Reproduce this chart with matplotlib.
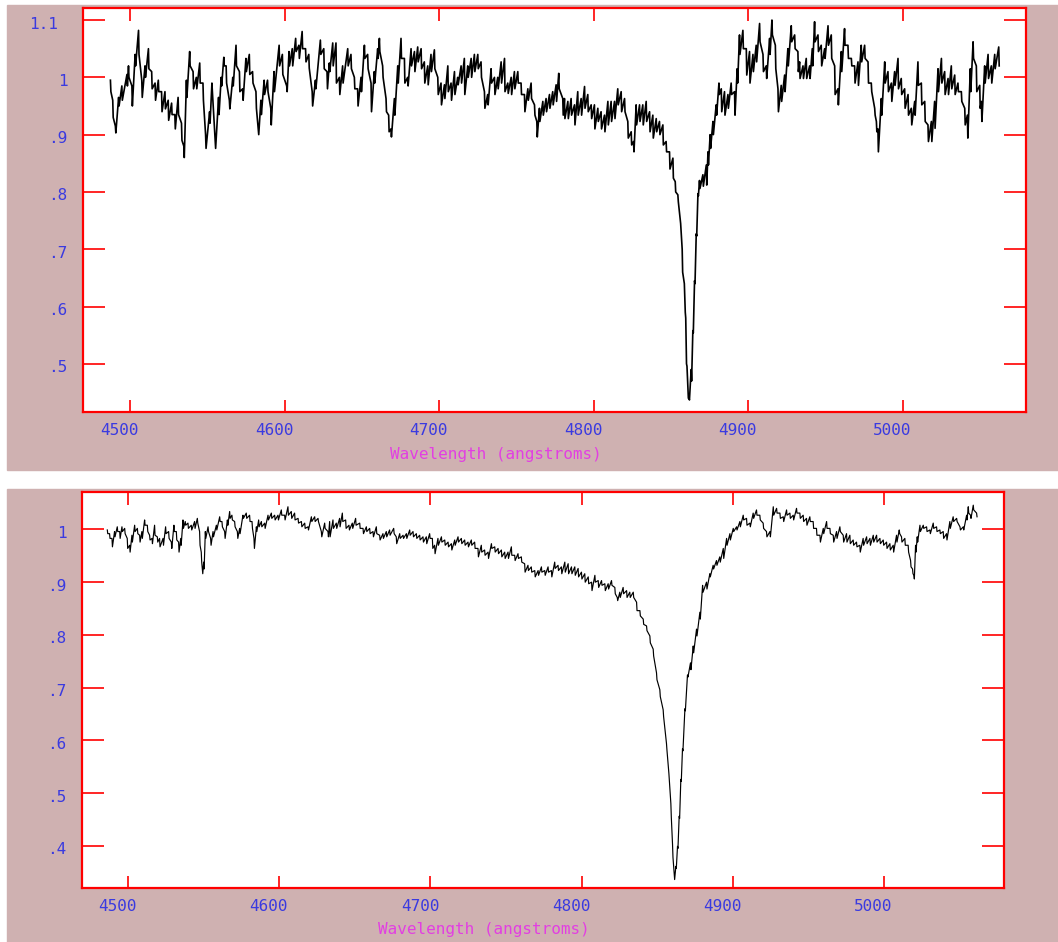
import matplotlib
matplotlib.use("Agg")
import matplotlib.pyplot as plt
import matplotlib.transforms as mtransforms
from matplotlib.patches import Rectangle
import numpy as np

# ---- top spectrum: wavelength, upper / lower edge of the noise band ----
top_wl = [4487.2, 4488.7, 4490.4, 4492.5, 4494.6, 4497.9, 4498.9, 4501.1, 4503.2, 4505.4,
          4507.5, 4509.6, 4511.8, 4513.9, 4516.1, 4518.2, 4520.3, 4522.5, 4524.6, 4526.8,
          4528.9, 4531.0, 4533.2, 4534.7, 4536.4, 4538.5, 4540.7, 4542.8, 4545.0, 4547.1,
          4548.8, 4551.4, 4552.9, 4555.0, 4557.2, 4558.9, 4560.6, 4562.1, 4564.2, 4566.4,
          4568.5, 4570.7, 4572.8, 4574.9, 4577.1, 4579.2, 4581.4, 4582.9, 4584.6, 4586.7,
          4588.9, 4591.0, 4593.1, 4596.4, 4598.5, 4601.3, 4602.8, 4604.9, 4607.1, 4609.2,
          4611.3, 4613.5, 4615.6, 4617.8, 4619.9, 4623.1, 4625.3, 4627.4,
          4628.9, 4631.1, 4633.2, 4635.4, 4637.5, 4640.8, 4642.9, 4645.1, 4647.2, 4649.4,
          4651.6, 4653.7, 4655.9, 4658.0, 4660.2, 4661.3, 4663.4, 4665.6, 4667.3, 4668.8,
          4671.0, 4673.2, 4675.3, 4677.5, 4679.6, 4681.8, 4684.0, 4686.1, 4688.3, 4690.4,
          4692.6, 4694.7, 4696.9, 4699.1, 4701.2, 4703.4, 4705.6, 4707.7, 4709.9, 4712.0,
          4714.2, 4716.3, 4718.5, 4720.7, 4722.8, 4725.0, 4727.1, 4729.3, 4731.4, 4733.6,
          4735.8, 4737.9, 4740.1, 4742.3, 4744.4, 4746.6, 4748.7, 4750.9, 4753.0, 4755.2,
          4757.4, 4759.5, 4761.7, 4763.2, 4764.9, 4767.1, 4769.2, 4771.4, 4773.5, 4775.7,
          4777.4, 4780.0,
          4781.1, 4783.3, 4785.4, 4787.6, 4789.7, 4791.9, 4794.1, 4796.2, 4798.4, 4800.5,
          4802.7, 4804.8, 4807.0, 4809.2, 4811.3, 4813.5, 4815.6, 4817.8, 4820.0, 4822.1,
          4824.3, 4825.8, 4827.5, 4829.7, 4831.8, 4834.0, 4836.2, 4838.3, 4840.5, 4842.6,
          4844.8, 4846.9, 4849.1, 4851.3, 4852.8, 4854.5, 4856.0, 4857.3, 4858.4, 4859.3,
          4860.1, 4861.0, 4861.7, 4863.1, 4864.2, 4865.3, 4866.4, 4867.5, 4868.5, 4870.7,
          4872.9, 4874.0, 4875.4, 4877.2, 4879.3, 4881.1, 4882.6, 4884.7, 4886.9, 4889.0,
          4891.2, 4892.9, 4894.4, 4896.6, 4898.8, 4900.9, 4903.1, 4905.2, 4907.4, 4909.6,
          4911.7, 4913.9, 4915.4, 4917.6, 4919.3, 4921.4, 4923.6, 4925.7, 4927.9, 4930.1,
          4932.2,
          4933.3, 4935.5, 4937.6, 4939.8, 4941.5, 4943.0, 4945.2, 4947.3, 4949.5, 4951.7,
          4953.8, 4956.0, 4958.1, 4960.3, 4962.4, 4964.6, 4966.8, 4968.9, 4971.1, 4973.2,
          4975.4, 4977.6, 4979.7, 4981.9, 4983.0, 4984.0, 4986.2, 4988.4, 4990.5, 4992.7,
          4994.8, 4997.0, 4999.1, 5001.3, 5003.5, 5005.6, 5007.8, 5009.9, 5012.1, 5014.3,
          5016.4, 5018.6, 5020.7, 5022.9, 5025.1, 5027.2, 5029.4, 5031.5, 5033.7, 5035.8,
          5038.0, 5040.2, 5041.9, 5043.8, 5045.6, 5047.7, 5049.9, 5051.0, 5053.1, 5055.3,
          5057.4, 5059.6, 5062.2]
top_hi = [0.995, 0.960, 0.915, 0.965, 0.985, 1.005, 1.020, 0.985, 1.040, 1.082,
          0.995, 1.020, 1.050, 1.010, 0.990, 0.995, 0.975, 0.975, 0.960, 0.955,
          0.935, 0.965, 0.920, 0.880, 0.995, 1.045, 1.010, 1.000, 1.025, 0.990,
          0.900, 0.940, 0.990, 0.890, 0.965, 1.000, 1.035, 1.020, 0.960, 1.000,
          1.056, 1.010, 0.980, 1.033, 1.040, 1.010, 0.975, 0.910, 0.960, 0.995,
          0.995, 0.946, 1.010, 1.056, 1.040, 0.985, 1.045, 1.050, 1.068, 1.056,
          1.080, 1.050, 1.040, 0.975, 0.995, 1.065, 1.050, 1.010,
          1.025, 1.060, 1.060, 1.000, 1.020, 1.050, 1.040, 1.000, 0.980, 1.000,
          1.056, 1.040, 0.990, 1.010, 1.050, 1.068, 1.020, 0.963, 0.934, 0.910,
          0.963, 1.020, 1.068, 1.033, 1.000, 1.050, 1.045, 1.053, 1.050, 1.027,
          1.020, 1.040, 1.048, 1.000, 0.990, 0.987, 1.020, 0.990, 1.010, 1.000,
          1.020, 1.033, 1.020, 1.033, 1.040, 1.040, 1.027, 0.975, 0.970, 1.015,
          1.000, 1.000, 1.027, 1.033, 0.990, 1.000, 1.010, 1.010, 0.990, 0.970,
          0.980, 0.990, 0.952, 0.923, 0.946, 0.958, 0.963, 0.970, 0.975, 0.987,
          1.007, 0.963,
          0.963, 0.958, 0.963, 0.952, 0.975, 0.963, 0.984, 0.970, 0.952, 0.952,
          0.946, 0.940, 0.934, 0.958, 0.958, 0.958, 0.980, 0.975, 0.963, 0.923,
          0.905, 0.888, 0.952, 0.952, 0.952, 0.958, 0.940, 0.934, 0.928, 0.923,
          0.917, 0.888, 0.870, 0.859, 0.818, 0.795, 0.752, 0.700, 0.645, 0.590,
          0.500, 0.457, 0.440, 0.490, 0.558, 0.645, 0.727, 0.797, 0.820, 0.830,
          0.847, 0.870, 0.900, 0.923, 0.952, 0.990, 0.980, 0.975, 0.970, 0.990,
          0.975, 1.015, 1.074, 1.082, 1.050, 1.045, 1.040, 1.056, 1.094, 1.040,
          1.020, 1.068, 1.100, 1.056, 0.980, 0.986, 1.004, 1.050, 1.090, 1.074,
          1.045,
          1.027, 1.020, 1.033, 1.020, 1.050, 1.097, 1.074, 1.056, 1.050, 1.090,
          1.074, 1.020, 0.980, 1.045, 1.085, 1.056, 1.033, 1.020, 1.027, 1.056,
          1.056, 1.027, 0.990, 0.946, 0.923, 0.910, 0.963, 1.027, 1.010, 0.990,
          1.010, 1.033, 0.998, 0.980, 0.970, 0.946, 0.958, 1.027, 0.990, 0.958,
          0.917, 0.923, 0.958, 1.015, 1.033, 1.010, 0.998, 1.020, 1.004, 0.990,
          0.975, 0.946, 0.934, 1.015, 1.062, 1.020, 0.986, 0.958, 1.020, 1.040,
          1.020, 1.040, 1.053]
top_lo = [0.975, 0.930, 0.903, 0.950, 0.960, 0.985, 1.000, 0.950, 1.020, 1.040,
          0.965, 1.000, 1.015, 0.980, 0.960, 0.975, 0.940, 0.945, 0.925, 0.935,
          0.910, 0.935, 0.890, 0.860, 0.965, 1.020, 0.980, 0.980, 0.990, 0.960,
          0.876, 0.920, 0.975, 0.876, 0.935, 0.985, 1.020, 0.990, 0.945, 0.985,
          1.020, 0.975, 0.960, 1.010, 1.005, 0.990, 0.946, 0.900, 0.935, 0.970,
          0.975, 0.917, 0.975, 1.020, 1.005, 0.975, 1.020, 1.020, 1.045, 1.033,
          1.050, 1.027, 1.016, 0.950, 0.980, 1.040, 1.015, 0.980,
          1.010, 1.020, 0.990, 0.970, 0.990, 1.020, 1.015, 0.980, 0.950, 0.975,
          1.033, 1.015, 0.940, 0.990, 1.033, 1.045, 1.000, 0.940, 0.905, 0.896,
          0.934, 0.990, 1.033, 0.990, 0.985, 1.020, 1.010, 1.027, 1.015, 0.990,
          0.987, 1.010, 1.015, 0.970, 0.952, 0.963, 0.975, 0.960, 0.970, 0.987,
          0.990, 0.970, 1.000, 1.000, 1.010, 1.015, 1.000, 0.946, 0.952, 0.990,
          0.970, 0.980, 0.990, 0.975, 0.972, 0.970, 0.980, 0.990, 0.970, 0.940,
          0.960, 0.963, 0.934, 0.896, 0.923, 0.934, 0.940, 0.946, 0.952, 0.958,
          0.980, 0.934,
          0.928, 0.928, 0.934, 0.917, 0.934, 0.934, 0.946, 0.940, 0.928, 0.910,
          0.923, 0.910, 0.905, 0.917, 0.923, 0.928, 0.952, 0.940, 0.940, 0.894,
          0.882, 0.870, 0.917, 0.923, 0.917, 0.923, 0.905, 0.894, 0.905, 0.900,
          0.882, 0.870, 0.840, 0.824, 0.800, 0.783, 0.745, 0.660, 0.640, 0.580,
          0.496, 0.440, 0.437, 0.470, 0.554, 0.640, 0.723, 0.793, 0.806, 0.810,
          0.812, 0.847, 0.876, 0.900, 0.934, 0.970, 0.940, 0.934, 0.946, 0.970,
          0.934, 0.990, 1.040, 1.050, 1.004, 0.990, 1.010, 1.027, 1.062, 1.010,
          0.998, 1.040, 1.074, 1.015, 0.940, 0.958, 0.975, 1.020, 1.062, 1.050,
          1.010,
          0.998, 0.998, 0.998, 0.998, 1.020, 1.062, 1.045, 1.020, 1.033, 1.056,
          1.033, 0.970, 0.952, 1.010, 1.056, 1.033, 1.020, 0.990, 0.986, 1.027,
          1.033, 0.990, 0.975, 0.934, 0.905, 0.870, 0.934, 0.990, 0.975, 0.958,
          0.986, 0.980, 0.970, 0.946, 0.934, 0.917, 0.934, 0.986, 0.952, 0.923,
          0.888, 0.888, 0.911, 0.975, 0.990, 0.970, 0.970, 0.980, 0.970, 0.975,
          0.958, 0.917, 0.894, 0.975, 1.033, 0.975, 0.946, 0.923, 0.990, 0.998,
          0.990, 1.015, 1.020]

# ---- bottom spectrum ----
bot_wl = [4486.2, 4487.7, 4489.3, 4491.0, 4492.8, 4494.4, 4495.9, 4497.7, 4499.4, 4501.0,
          4502.5, 4504.3, 4506.1, 4507.6, 4509.1, 4510.9, 4512.7, 4514.2, 4515.8, 4517.5,
          4519.3, 4520.8, 4523.1, 4524.8, 4526.8, 4528.6, 4530.3, 4531.9, 4533.4, 4534.8,
          4536.3, 4537.8, 4539.6, 4541.8, 4544.0, 4545.8, 4547.3, 4548.4, 4549.1, 4550.0,
          4551.1, 4552.9, 4554.6, 4556.2, 4558.4, 4560.6, 4562.1, 4563.9, 4565.7, 4567.2,
          4568.7, 4570.5, 4572.3, 4573.8, 4576.0, 4578.2, 4580.4, 4582.0, 4583.3, 4584.9,
          4586.4, 4588.2, 4590.4, 4592.6, 4594.8, 4597.0, 4599.2, 4601.4, 4603.6, 4605.8,
          4608.0, 4610.2, 4612.5, 4614.7, 4616.9, 4619.1, 4621.3, 4623.5, 4625.7, 4627.9,
          4630.1, 4632.3,
          4633.4, 4635.6, 4637.8, 4640.0, 4641.8, 4644.0, 4646.2, 4648.4, 4650.6, 4653.3,
          4655.5, 4657.7, 4659.9, 4662.1, 4664.3, 4666.5, 4668.7, 4670.9, 4673.1, 4675.8,
          4677.5, 4679.8, 4682.0, 4684.2, 4686.4, 4688.6, 4690.8, 4693.0, 4695.2, 4697.4,
          4699.6, 4701.4, 4702.9, 4705.1, 4707.4, 4709.6, 4711.8, 4714.0, 4716.2, 4718.4,
          4720.6, 4722.8, 4725.0, 4727.2, 4729.4, 4731.6, 4733.8, 4736.0, 4738.3, 4740.5,
          4742.7, 4744.9, 4747.1, 4749.3, 4751.5, 4753.7, 4755.9, 4758.1, 4760.3, 4762.5,
          4764.7, 4766.9, 4769.2, 4771.4, 4773.6, 4775.8, 4778.0, 4780.2, 4782.4, 4784.6,
          4786.8,
          4789.1, 4791.3, 4793.5, 4795.7, 4797.9, 4800.1, 4802.3, 4804.6, 4806.8, 4809.0,
          4811.2, 4813.4, 4815.6, 4817.8, 4820.0, 4822.2, 4823.8, 4825.5, 4827.7, 4830.0,
          4832.1, 4834.4, 4836.6, 4838.8, 4841.0, 4843.2, 4845.4, 4847.6, 4849.8, 4852.0,
          4854.2, 4856.4, 4858.0, 4859.3, 4860.4, 4861.5, 4862.6, 4863.7, 4864.8, 4865.9,
          4867.0, 4868.6, 4870.3, 4872.3, 4874.1, 4876.3, 4878.5, 4880.3, 4882.9, 4885.1,
          4887.3, 4889.5, 4891.7, 4894.0, 4896.2, 4898.4, 4900.6, 4902.8, 4905.0, 4907.2,
          4909.4, 4911.6, 4913.8, 4916.0, 4918.2, 4920.4, 4922.6, 4924.9, 4927.1, 4929.3,
          4931.5, 4933.7, 4935.9, 4938.1, 4940.3, 4942.5,
          4944.7, 4946.9, 4949.1, 4951.3, 4953.5, 4955.7, 4958.0, 4960.2, 4962.4, 4964.6,
          4966.8, 4969.0, 4971.2, 4973.4, 4975.6, 4977.8, 4980.0, 4982.2, 4984.4, 4986.6,
          4988.9, 4991.1, 4993.3, 4995.5, 4997.7, 4999.9, 5002.1, 5004.3, 5006.5, 5008.7,
          5010.5, 5012.0, 5014.2, 5016.4, 5018.0, 5019.3, 5020.2, 5021.3, 5022.4, 5024.2,
          5026.4, 5028.6, 5030.8, 5033.0, 5035.2, 5037.4, 5039.6, 5041.8, 5044.0, 5046.2,
          5048.5, 5050.7, 5052.9, 5055.1, 5056.2, 5057.7, 5059.5, 5061.7]
bot_hi = [0.999, 0.992, 0.983, 0.996, 1.005, 0.996, 1.005, 1.002, 0.983, 0.970,
          0.989, 1.008, 1.002, 0.989, 0.996, 1.018, 1.008, 0.989, 0.983, 1.008,
          0.986, 0.983, 0.983, 1.005, 0.996, 0.976, 1.008, 0.996, 0.976, 0.983,
          1.018, 1.015, 1.012, 1.008, 1.015, 1.021, 0.996, 0.957, 0.925, 0.938,
          0.996, 1.005, 0.983, 0.996, 1.008, 1.024, 1.015, 0.996, 1.018, 1.034,
          1.027, 1.015, 0.996, 1.002, 1.027, 1.031, 1.027, 1.015, 0.983, 1.005,
          1.018, 1.015, 1.012, 1.027, 1.031, 1.027, 1.027, 1.037, 1.027, 1.043,
          1.034, 1.031, 1.021, 1.015, 1.012, 1.005, 1.024, 1.024, 1.021, 0.996,
          1.012, 0.996,
          1.015, 1.018, 1.012, 1.021, 1.031, 1.018, 1.008, 1.012, 1.021, 1.012,
          1.002, 1.005, 1.002, 0.996, 1.005, 0.989, 0.992, 0.996, 0.999, 1.002,
          0.986, 0.992, 0.989, 0.992, 0.999, 0.996, 0.992, 0.989, 0.986, 0.986,
          0.992, 0.983, 0.970, 0.983, 0.986, 0.980, 0.976, 0.973, 0.980, 0.986,
          0.983, 0.980, 0.976, 0.980, 0.976, 0.964, 0.970, 0.961, 0.957, 0.973,
          0.967, 0.964, 0.961, 0.957, 0.957, 0.967, 0.951, 0.954, 0.948, 0.935,
          0.932, 0.929, 0.922, 0.922, 0.929, 0.922, 0.929, 0.922, 0.938, 0.932,
          0.929,
          0.938, 0.935, 0.929, 0.929, 0.926, 0.919, 0.916, 0.910, 0.900, 0.913,
          0.903, 0.903, 0.897, 0.897, 0.903, 0.890, 0.871, 0.881, 0.890, 0.884,
          0.881, 0.881, 0.862, 0.846, 0.830, 0.817, 0.798, 0.773, 0.728, 0.696,
          0.658, 0.594, 0.537, 0.480, 0.403, 0.346, 0.361, 0.399, 0.456, 0.526,
          0.584, 0.660, 0.724, 0.747, 0.779, 0.811, 0.843, 0.894, 0.900, 0.916,
          0.932, 0.941, 0.948, 0.964, 0.983, 0.992, 1.002, 1.005, 1.015, 1.027,
          1.021, 1.012, 1.031, 1.037, 1.027, 1.012, 0.996, 0.996, 1.043, 1.040,
          1.031, 1.024, 1.037, 1.031, 1.027, 1.040,
          1.031, 1.027, 1.021, 1.024, 1.015, 1.002, 0.989, 1.002, 1.015, 1.002,
          0.989, 0.996, 1.005, 0.989, 0.992, 0.989, 0.980, 0.976, 0.970, 0.983,
          0.986, 0.983, 0.989, 0.989, 0.983, 0.980, 0.976, 0.973, 0.970, 0.989,
          0.999, 0.986, 0.983, 0.970, 0.941, 0.925, 0.913, 0.970, 0.986, 1.008,
          1.008, 1.005, 0.999, 1.012, 1.005, 0.999, 0.996, 0.992, 1.015, 1.024,
          1.021, 1.005, 1.005, 1.027, 1.043, 1.027, 1.046, 1.031]
bot_lo = [0.992, 0.983, 0.967, 0.986, 0.996, 0.983, 0.996, 0.992, 0.964, 0.957,
          0.976, 0.996, 0.992, 0.976, 0.983, 1.008, 0.996, 0.980, 0.973, 0.989,
          0.976, 0.967, 0.970, 0.992, 0.983, 0.964, 0.996, 0.980, 0.957, 0.970,
          1.002, 1.008, 1.002, 0.999, 1.002, 1.012, 0.970, 0.938, 0.916, 0.925,
          0.983, 0.996, 0.970, 0.986, 0.999, 1.015, 1.005, 0.983, 1.008, 1.021,
          1.018, 1.005, 0.983, 0.992, 1.021, 1.021, 1.015, 1.002, 0.964, 0.996,
          1.005, 1.005, 1.002, 1.018, 1.021, 1.018, 1.018, 1.027, 1.018, 1.027,
          1.021, 1.018, 1.012, 1.005, 1.002, 0.999, 1.015, 1.015, 1.015, 0.986,
          1.002, 0.986,
          0.986, 1.002, 1.002, 1.005, 1.015, 1.002, 0.999, 1.002, 1.008, 1.002,
          0.992, 0.996, 0.992, 0.986, 0.992, 0.980, 0.983, 0.986, 0.989, 0.992,
          0.973, 0.983, 0.983, 0.983, 0.989, 0.986, 0.983, 0.980, 0.976, 0.973,
          0.983, 0.964, 0.954, 0.970, 0.976, 0.970, 0.967, 0.961, 0.970, 0.976,
          0.973, 0.970, 0.967, 0.970, 0.964, 0.948, 0.957, 0.951, 0.945, 0.964,
          0.957, 0.954, 0.948, 0.945, 0.945, 0.951, 0.941, 0.945, 0.938, 0.919,
          0.922, 0.919, 0.910, 0.913, 0.919, 0.913, 0.919, 0.910, 0.926, 0.922,
          0.916,
          0.919, 0.916, 0.916, 0.913, 0.910, 0.906, 0.900, 0.897, 0.884, 0.900,
          0.890, 0.894, 0.884, 0.887, 0.894, 0.878, 0.865, 0.871, 0.878, 0.871,
          0.871, 0.871, 0.846, 0.836, 0.820, 0.808, 0.785, 0.760, 0.715, 0.683,
          0.645, 0.582, 0.524, 0.454, 0.378, 0.336, 0.357, 0.395, 0.452, 0.522,
          0.580, 0.656, 0.720, 0.734, 0.766, 0.798, 0.830, 0.881, 0.887, 0.910,
          0.925, 0.932, 0.938, 0.945, 0.970, 0.980, 0.996, 0.999, 1.005, 1.018,
          1.008, 1.005, 1.021, 1.027, 1.018, 1.002, 0.986, 0.986, 1.027, 1.031,
          1.021, 1.015, 1.027, 1.021, 1.018, 1.031,
          1.021, 1.015, 1.008, 1.015, 1.002, 0.989, 0.976, 0.992, 1.002, 0.992,
          0.976, 0.983, 0.996, 0.976, 0.976, 0.973, 0.970, 0.967, 0.957, 0.970,
          0.973, 0.970, 0.976, 0.976, 0.973, 0.970, 0.964, 0.961, 0.957, 0.976,
          0.992, 0.976, 0.970, 0.957, 0.929, 0.916, 0.906, 0.957, 0.976, 0.996,
          1.002, 0.996, 0.992, 1.002, 0.996, 0.992, 0.983, 0.980, 1.002, 1.015,
          1.015, 0.999, 0.999, 1.018, 1.031, 1.021, 1.037, 1.024]

x_ticks = [4500, 4600, 4700, 4800, 4900, 5000]
top_yticks = [0.5, 0.6, 0.7, 0.8, 0.9, 1.0, 1.1]
top_ylabels = ['.5', '.6', '.7', '.8', '.9', '1', '1.1']
bot_yticks = [0.4, 0.5, 0.6, 0.7, 0.8, 0.9, 1.0]
bot_ylabels = ['.4', '.5', '.6', '.7', '.8', '.9', '1']
xlabel = 'Wavelength (angstroms)'

W, H = 1058, 942
PINK = '#cfb1b1'
BLUE = '#3a3ae0'
MAG = '#e23fe2'
RED = '#ff0000'
FONT = 'DejaVu Sans Mono'

fig = plt.figure(figsize=(W / 100, H / 100), dpi=100)
fig.patch.set_facecolor('white')
fig.add_artist(Rectangle((7 / W, 1 - 470 / H), (W - 7) / W, 465 / H,
                         transform=fig.transFigure, color=PINK, zorder=-10))
fig.add_artist(Rectangle((7 / W, 0), (W - 7) / W, (H - 489) / H,
                         transform=fig.transFigure, color=PINK, zorder=-10))


def band(wl, hi, lo):
    # zigzag between the upper and lower edge of the noise at each sample
    wl = np.asarray(wl)
    x = np.column_stack([wl - 0.15, wl + 0.15]).ravel()
    y = np.column_stack([hi, lo]).ravel()
    return x, y


def style(ax, yticks, ylabels, ylim, label_x, label_y):
    ax.set_facecolor('white')
    ax.set_xlim(4469.3, 5079.7)
    ax.set_ylim(*ylim)
    for s in ax.spines.values():
        s.set_color(RED)
        s.set_linewidth(1.6)
    ax.set_xticks(x_ticks)
    ax.set_xticklabels([str(t) for t in x_ticks])
    ax.set_yticks(yticks)
    ax.set_yticklabels(ylabels)
    ax.tick_params(axis='x', direction='in', length=9, width=1.2, color=RED,
                   top=True, labelcolor=BLUE, labelsize=11.5, pad=8)
    ax.tick_params(axis='y', direction='in', length=16, width=1.2, color=RED,
                   right=True, labelcolor=BLUE, labelsize=11.5, pad=11)
    ax.minorticks_off()
    for lab in ax.get_xticklabels():
        lab.set_fontfamily(FONT)
        lab.set_transform(lab.get_transform() +
                          mtransforms.ScaledTranslation(-0.105, 0, fig.dpi_scale_trans))
    for lab in ax.get_yticklabels():
        lab.set_fontfamily(FONT)
        dx = -0.10 if lab.get_text() == '1.1' else 0.0
        lab.set_transform(lab.get_transform() +
                          mtransforms.ScaledTranslation(dx, -0.025, fig.dpi_scale_trans))
    ax.set_xlabel(xlabel, color=MAG, fontsize=11.5, fontfamily=FONT)
    ax.xaxis.set_label_coords(label_x, label_y)


ax1 = fig.add_axes([83 / W, 1 - 412 / H, 943 / W, 404 / H])
x, y = band(top_wl, top_hi, top_lo)
ax1.plot(x, y, color='black', lw=1.2)
style(ax1, top_yticks, top_ylabels, (0.416, 1.121), 0.438, -0.087)

ax2 = fig.add_axes([82 / W, 1 - 888 / H, 922 / W, 396 / H])
x, y = band(bot_wl, bot_hi, bot_lo)
ax2.plot(x, y, color='black', lw=0.85)
style(ax2, bot_yticks, bot_ylabels, (0.32, 1.071), 0.436, -0.086)

fig.savefig('out.png', dpi=100)
